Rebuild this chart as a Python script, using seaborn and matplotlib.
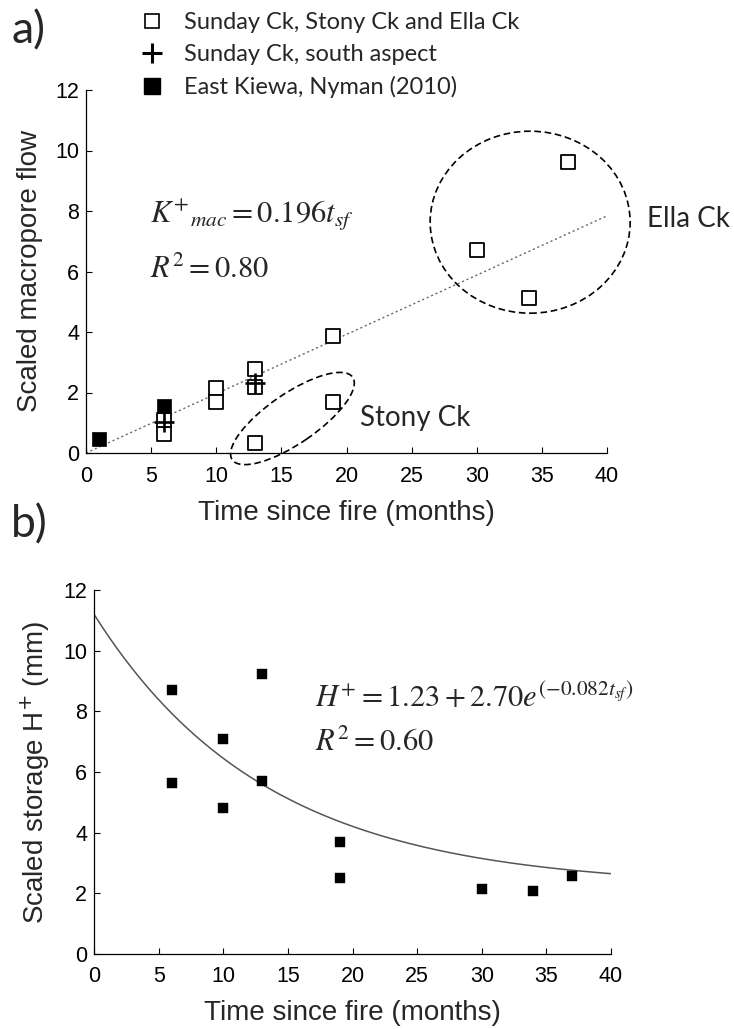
import numpy as np
import pandas as pd
import seaborn as sns
import matplotlib.pyplot as plt
from matplotlib.patches import Ellipse
from matplotlib.lines import Line2D
from matplotlib.transforms import ScaledTranslation

# ---- data -------------------------------------------------------------
# panel a: scaled macropore flow vs time since fire
months_open = [6, 6, 10, 10, 13, 13, 13, 19, 19, 30, 34, 37]
flow_open = [0.63, 1.10, 2.14, 1.67, 2.79, 2.18, 0.33, 3.87, 1.70, 6.70, 5.14, 9.62]
months_south = [6, 13]
flow_south = [1.01, 2.31]
months_kiewa = [1, 6]
flow_kiewa = [0.46, 1.54]
flow_slope = 0.196          # K+mac = 0.196 t_sf

# panel b: scaled storage vs time since fire
months_storage = [6, 6, 10, 10, 13, 13, 19, 19, 30, 34, 37]
storage = [8.70, 5.65, 7.09, 4.82, 9.23, 5.69, 3.68, 2.50, 2.15, 2.09, 2.56]
storage_base, storage_amp, storage_rate = 2.2, 9.0, 0.075

legend_labels = ["Sunday Ck, Stony Ck and Ella Ck",
                 "Sunday Ck, south aspect",
                 "East Kiewa, Nyman (2010)"]
x_ticks = list(range(0, 41, 5))
y_ticks = list(range(0, 13, 2))

# ---- style ------------------------------------------------------------
sns.set_style("ticks")
plt.rcParams['font.family'] = ['Liberation Sans', 'DejaVu Sans']
label_font = ['Lato', 'DejaVu Sans']

W, H = 734, 1029
fig = plt.figure(figsize=(W / 100, H / 100), dpi=100)
ax_a = fig.add_axes([86 / W, 1 - 453 / H, 521 / W, 363 / H])
ax_b = fig.add_axes([94 / W, 1 - 954 / H, 517 / W, 364 / H])

for ax in (ax_a, ax_b):
    ax.set_xlim(0, 40)
    ax.set_ylim(0, 12)
    ax.set_xticks(x_ticks)
    ax.set_yticks(y_ticks)
    ax.tick_params(direction='in', length=4, width=0.8, labelsize=15.5, colors='black')
    ax.tick_params(axis='x', pad=9)
    ax.tick_params(axis='y', pad=5)
    for side in ('top', 'right'):
        ax.spines[side].set_visible(False)
    for side in ('left', 'bottom'):
        ax.spines[side].set_linewidth(0.9)
        ax.spines[side].set_color('black')

# ---- panel a ----------------------------------------------------------
t_fit = np.array([0.0, 40.0])
sns.lineplot(x=t_fit, y=flow_slope * t_fit, ax=ax_a, color='#666666',
             linewidth=1.0, linestyle=(0, (1.5, 2)), zorder=2)

sns.scatterplot(x=months_open, y=flow_open, ax=ax_a, marker='s', s=90,
                color='white', edgecolor='black', linewidth=1.3, zorder=3,
                clip_on=False)
sns.scatterplot(x=months_south, y=flow_south, ax=ax_a, marker='+', s=220,
                color='black', linewidth=1.9, zorder=4, clip_on=False)
sns.scatterplot(x=months_kiewa, y=flow_kiewa, ax=ax_a, marker='s', s=105,
                color='black', edgecolor='black', linewidth=0.5, zorder=4,
                clip_on=False)

# dashed outlines around the Stony Ck and Ella Ck groups
def group_outline(ax, cx, cy, w_in, h_in, angle):
    trans = fig.dpi_scale_trans + ScaledTranslation(cx, cy, ax.transData)
    ax.add_patch(Ellipse((0, 0), w_in, h_in, angle=angle, transform=trans,
                         fill=False, edgecolor='black', linewidth=1.2,
                         linestyle=(0, (4, 2.2)), clip_on=False, zorder=2))

group_outline(ax_a, 15.85, 1.14, 1.46, 0.50, 34.4)
group_outline(ax_a, 34.1, 7.63, 2.00, 1.82, 0)

ax_a.text(21.0, 1.15, "Stony Ck", fontsize=20, family=label_font, va='center', ha='left')
ax_a.text(43.1, 7.75, "Ella Ck", fontsize=20, family=label_font, va='center', ha='left',
          clip_on=False)

ax_a.text(4.9, 7.85, r'$K^{+}{}_{mac} = 0.196t_{sf}$', fontsize=22,
          math_fontfamily='stix', va='center', ha='left')
ax_a.text(4.9, 6.04, r'$R^{2} = 0.80$', fontsize=22,
          math_fontfamily='stix', va='center', ha='left')

ax_a.set_xlabel("Time since fire (months)", fontsize=20, labelpad=10)
ax_a.set_ylabel("Scaled macropore flow", fontsize=20, labelpad=9)

handles = [
    Line2D([], [], linestyle='none', marker='s', markersize=10,
           markerfacecolor='white', markeredgecolor='black', markeredgewidth=1.2),
    Line2D([], [], linestyle='none', marker='+', markersize=14,
           color='black', markeredgewidth=2.2),
    Line2D([], [], linestyle='none', marker='s', markersize=11,
           markerfacecolor='black', markeredgecolor='black'),
]
fig.legend(handles, legend_labels, loc='upper left',
           bbox_to_anchor=(140 / W, 1 - 12 / H), frameon=False,
           prop={'family': label_font, 'size': 17}, handlelength=1.0,
           handletextpad=0.85, labelspacing=0.47, borderpad=0, borderaxespad=0)

# ---- panel b ----------------------------------------------------------
t_curve = np.linspace(0, 40, 200)
sns.lineplot(x=t_curve, y=storage_base + storage_amp * np.exp(-storage_rate * t_curve),
             ax=ax_b, color='#555555', linewidth=1.1, zorder=2)
sns.scatterplot(x=months_storage, y=storage, ax=ax_b, marker='s', s=45,
                color='black', edgecolor='black', linewidth=0.3, zorder=3)

ax_b.text(17.1, 8.43, r'$H^{+} = 1.23 + 2.70e^{(-0.082t_{sf})}$', fontsize=22,
          math_fontfamily='stix', va='center', ha='left')
ax_b.text(17.1, 6.95, r'$R^{2} = 0.60$', fontsize=22,
          math_fontfamily='stix', va='center', ha='left')

ax_b.set_xlabel("Time since fire (months)", fontsize=20, labelpad=9)
ax_b.set_ylabel(r"Scaled storage H$^{+}$ (mm)", fontsize=20, labelpad=8,
                math_fontfamily='dejavusans')

fig.text(12 / W, 1 - 31 / H, "a)", fontsize=32, family=label_font, va='center', ha='left')
fig.text(11 / W, 1 - 525 / H, "b)", fontsize=32, family=label_font, va='center', ha='left')

fig.savefig("out.png", dpi=100)
